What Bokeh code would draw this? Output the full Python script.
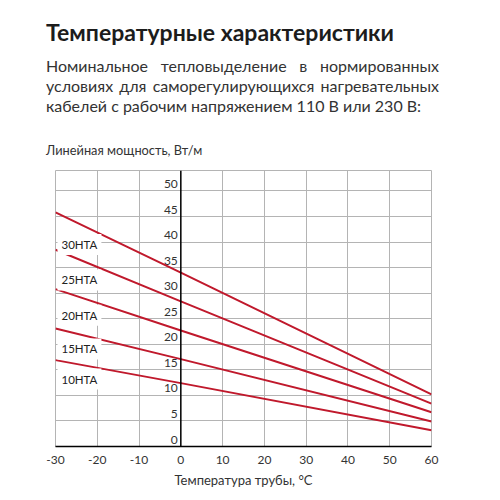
from bokeh.plotting import figure
from bokeh.models import Range1d, Span, Label, FixedTicker, Div
from bokeh.layouts import column
from bokeh.embed import file_html
from bokeh.resources import INLINE
from bokeh.core.properties import value

# ---- data ----
temps = [-30, 0, 60]
p30 = [45.8, 34.0, 10.2]
p25 = [38.5, 28.4, 8.4]
p20 = [30.8, 22.7, 6.7]
p15 = [23.1, 17.1, 4.9]
p10 = [16.9, 12.4, 3.2]
series_names = ["30HTA", "25HTA", "20HTA", "15HTA", "10HTA"]
x_ticks = [-30, -20, -10, 0, 10, 20, 30, 40, 50, 60]
x_tick_labels = ["-30", "-20", "-10", "0", "10", "20", "30", "40", "50", "60"]
y_ticks = [0, 5, 10, 15, 20, 25, 30, 35, 40, 45, 50]

title_text = "Температурные характеристики"
para_lines = ["Номинальное тепловыделение в нормированных",
              "условиях для саморегулирующихся нагревательных",
              "кабелей с рабочим напряжением 110 В или 230 В:"]
y_title = "Линейная мощность, Вт/м"
x_title = "Температура трубы, °C"

FONT = "Lato"
RED = "#c0192c"
GRID = "#b4b4b4"

# ---- header (HTML text) ----
def line_div(text, top, justify):
    extra = "text-align:justify;text-align-last:justify;" if justify else ""
    return (f'<div style="position:absolute;left:46px;top:{top}px;width:393px;'
            f'font-size:16px;line-height:19px;white-space:nowrap;{extra}">{text}</div>')

html = (
    f'<div style="position:relative;width:500px;height:165px;font-family:{FONT};color:#333333;">'
    f'<div style="position:absolute;left:46px;top:21px;font-size:23px;line-height:23px;'
    f'font-weight:bold;color:#1c1c1c;white-space:nowrap;">{title_text}</div>'
    + line_div(para_lines[0], 56, True)
    + line_div(para_lines[1], 76, True)
    + line_div(para_lines[2], 96, False)
    + f'<div style="position:absolute;left:46px;top:144px;font-size:12.8px;line-height:12.8px;'
      f'white-space:nowrap;">{y_title}</div>'
    + '</div>'
)
h = Div(text=html, width=500, height=165, margin=(0, 0, 0, 0))

# ---- chart ----
p = figure(width=500, height=335, x_range=Range1d(-30, 60), y_range=Range1d(0, 54),
           output_backend="svg", toolbar_location=None,
           min_border_left=55, min_border_right=69, min_border_top=5, min_border_bottom=54,
           outline_line_color=GRID, outline_line_width=1, margin=(0, 0, 0, 0))
p.yaxis.visible = False
p.xgrid.ticker = FixedTicker(ticks=x_ticks)
p.ygrid.ticker = FixedTicker(ticks=y_ticks)
p.grid.grid_line_color = GRID
p.grid.grid_line_width = 1

p.xaxis.ticker = FixedTicker(ticks=x_ticks)
p.xaxis.major_label_overrides = {t: s for t, s in zip(x_ticks, x_tick_labels)}
p.xaxis.axis_line_color = "black"
p.xaxis.axis_line_width = 1.5
p.xaxis.major_tick_line_color = None
p.xaxis.minor_tick_line_color = None
p.xaxis.major_label_standoff = 3
p.xaxis.major_label_text_font = FONT
p.xaxis.major_label_text_font_size = "12px"
p.xaxis.major_label_text_color = "#333333"
p.xaxis.axis_label = x_title
p.xaxis.axis_label_text_font = FONT
p.xaxis.axis_label_text_font_size = "13px"
p.xaxis.axis_label_text_font_style = "normal"
p.xaxis.axis_label_text_color = "#333333"
p.xaxis.axis_label_standoff = 5

p.add_layout(Span(location=0, dimension="height", line_color="black", line_width=1.5))

p.text(x=[0] * len(y_ticks), y=y_ticks, text=[str(v) for v in y_ticks],
       x_offset=-3, y_offset=-7, text_align="right", text_baseline="middle",
       text_font=value(FONT), text_font_size="12px", text_color="#333333")

for vals in [p30, p25, p20, p15, p10]:
    p.line(temps, vals, line_color=RED, line_width=2)

label_y = [39.5, 32.6, 25.7, 19.1, 13.2]
for name, ly in zip(series_names, label_y):
    p.add_layout(Label(x=-30, y=ly, x_offset=2, text=name, text_baseline="middle",
                       text_font=FONT, text_font_size="11.5px", text_color="#222222",
                       background_fill_color="white", padding=4))

layout = column(h, p, spacing=0)
open("out.html", "w").write(file_html(layout, INLINE))
